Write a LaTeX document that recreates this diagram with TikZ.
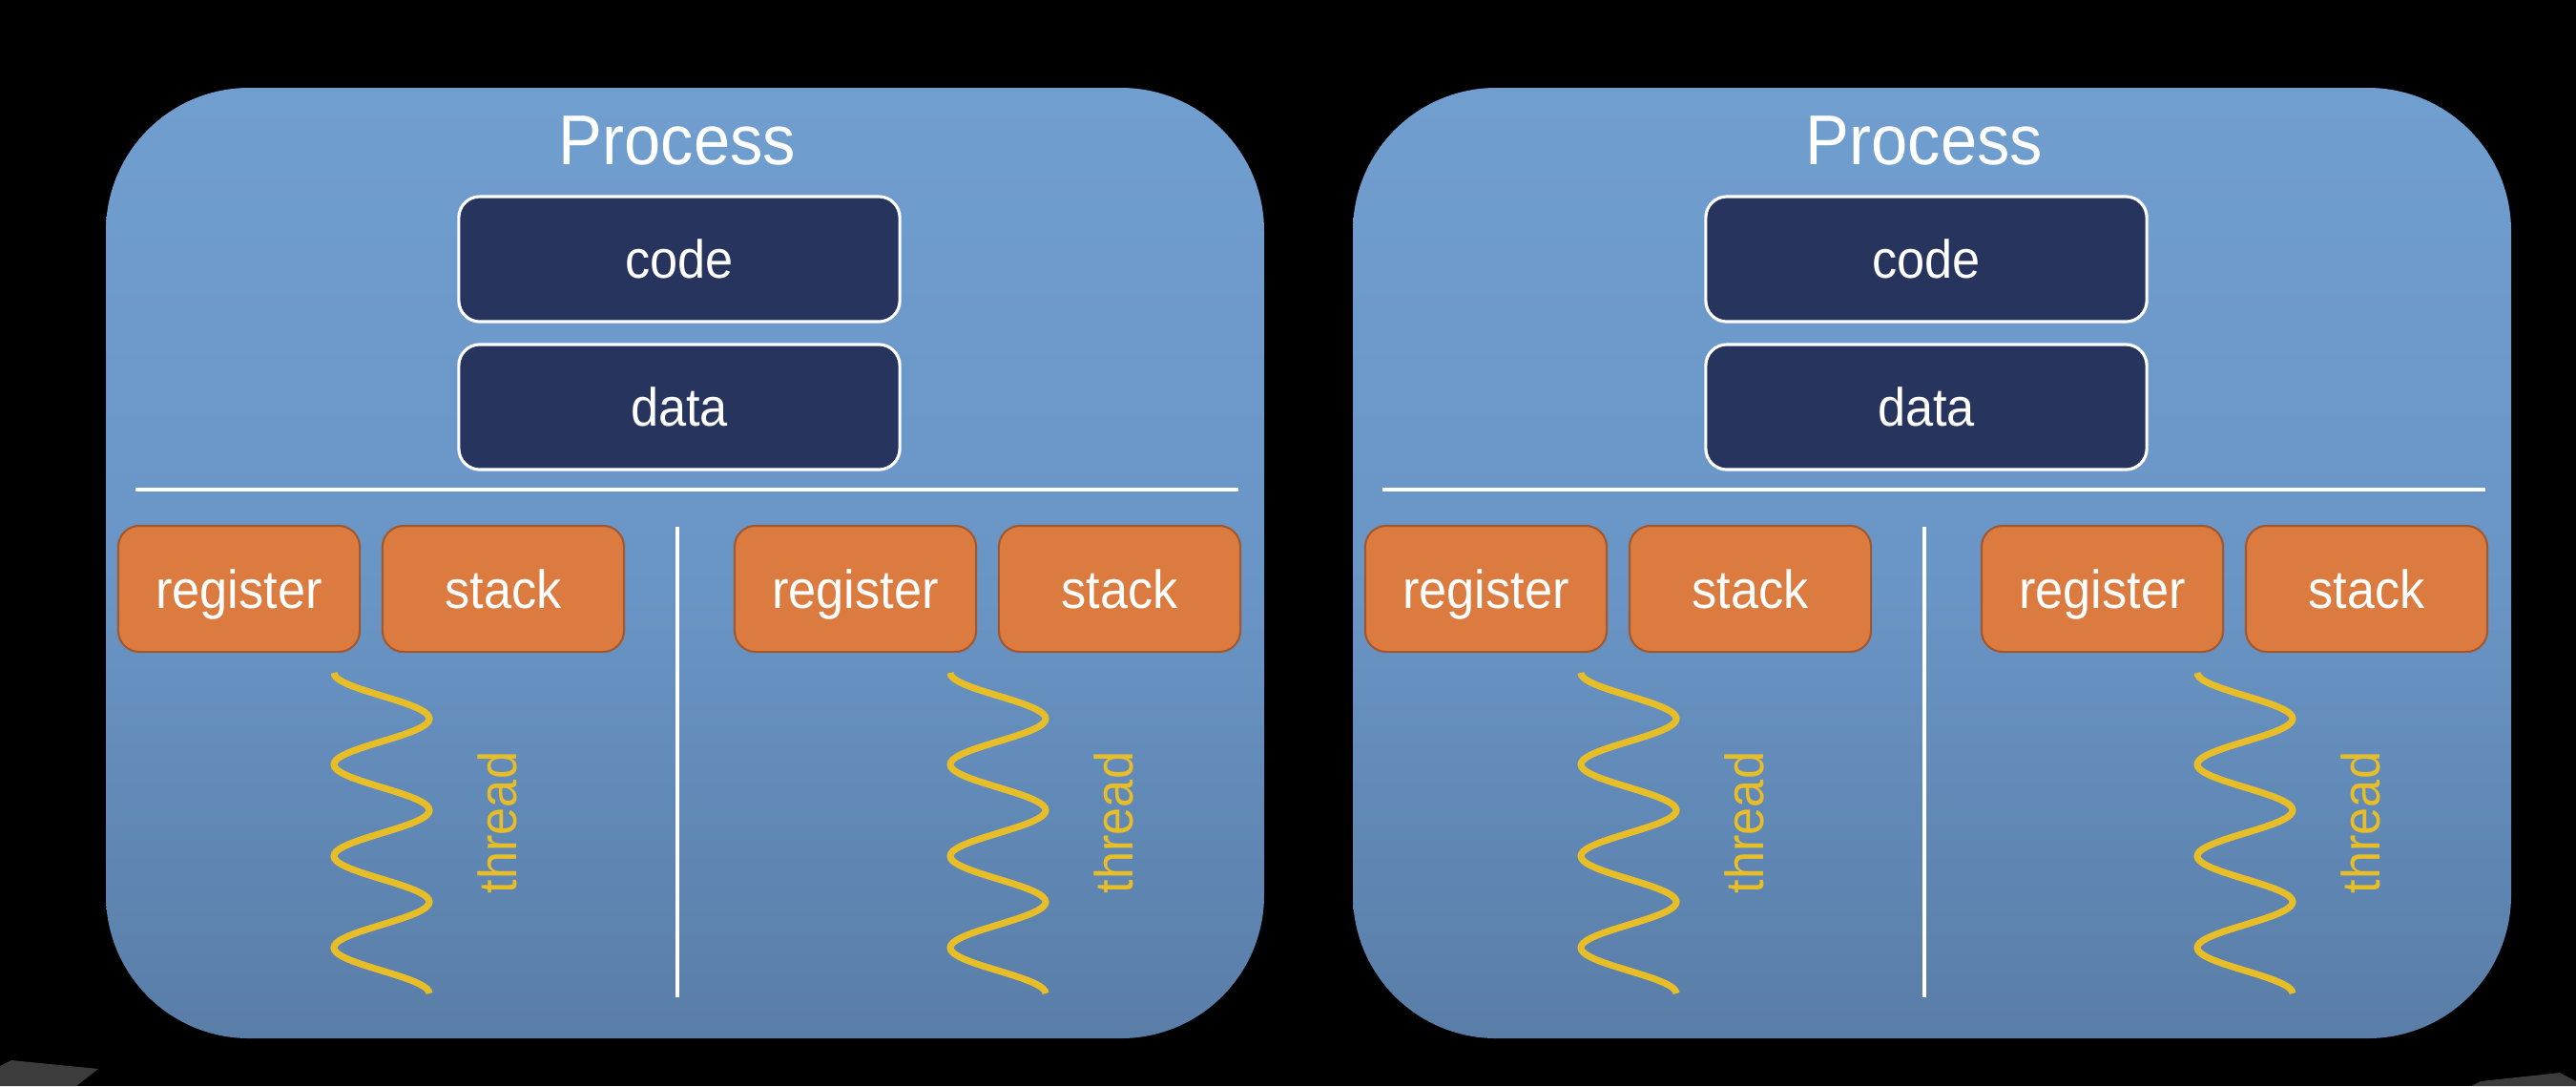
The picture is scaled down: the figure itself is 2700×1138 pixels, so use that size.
\documentclass[tikz,border=0pt]{standalone}
\usepackage{fontspec}
\setmainfont{Liberation Sans}[FakeStretch=0.93]
\definecolor{procTop}{RGB}{112,158,207}
\definecolor{procMid}{RGB}{106,150,199}
\definecolor{procBot}{RGB}{89,125,167}
\definecolor{memBlue}{RGB}{39,53,94}
\definecolor{thrOrange}{RGB}{220,123,64}
\definecolor{thrEdge}{RGB}{160,88,48}
\definecolor{waveYellow}{RGB}{232,190,40}
\definecolor{junkGray}{RGB}{60,60,60}
\begin{document}
\begin{tikzpicture}[x=0.01cm,y=-0.01cm,
    every node/.style={inner sep=0pt,text=white,text depth=0pt,font=\fontsize{16}{19}\selectfont},
    procbox/.style={rounded corners=1.5cm,top color=procTop,bottom color=procBot,middle color=procMid},
    memblock/.style={draw=white,line width=0.9pt,fill=memBlue,rounded corners=0.22cm,minimum width=4.62cm,minimum height=1.31cm},
    thrblock/.style={draw=thrEdge,line width=0.6pt,fill=thrOrange,rounded corners=0.22cm,minimum width=2.53cm,minimum height=1.32cm},
    sepline/.style={white,line width=0.95pt},
    wave/.style={waveYellow,line width=2pt},
    threadlabel/.style={text=waveYellow,rotate=90}]
  \fill[black](0,0)rectangle(2700,1138);
  \useasboundingbox(0,0)rectangle(2700,1138);
  \fill[junkGray](0,1117)--(12,1111)--(103,1120)--(80,1138)--(0,1138)--cycle;
  \fill[junkGray](2590,1138)--(2600,1133)--(2683,1124)--(2700,1133)--(2700,1138)--cycle;
  \foreach \p/\o in {1/111,2/1418}{
    \shade[procbox](\o,92)rectangle++(1214,996);
    \node[font=\fontsize{21}{25}\selectfont,anchor=base](title\p) at (\o+599,172){Process};
    \node[memblock](code\p) at (\o+601,271.5){code};
    \node[memblock](data\p) at (\o+601,426.5){data};
    \coordinate(sepW\p) at (\o+31,513);
    \coordinate(sepE\p) at (\o+1187,513);
    \coordinate(divN\p) at (\o+599,552);
    \coordinate(divS\p) at (\o+599,1045);
    \draw[sepline](sepW\p)--(sepE\p) (divN\p)--(divS\p);
    \foreach \t/\d in {1/0,2/646}{
      \node[thrblock](reg\p\t) at (\o+\d+139.5,617){register};
      \node[thrblock](stk\p\t) at (\o+\d+416.5,617){stack};
      \draw[wave] plot[variable=\s,domain=0:7,samples=141]({\o+\d+289-50*cos(\s*180)},{705+48*\s});
      \node[threadlabel](thr\p\t) at (\o+\d+410,862){thread};
    }
  }
\end{tikzpicture}
\end{document}
